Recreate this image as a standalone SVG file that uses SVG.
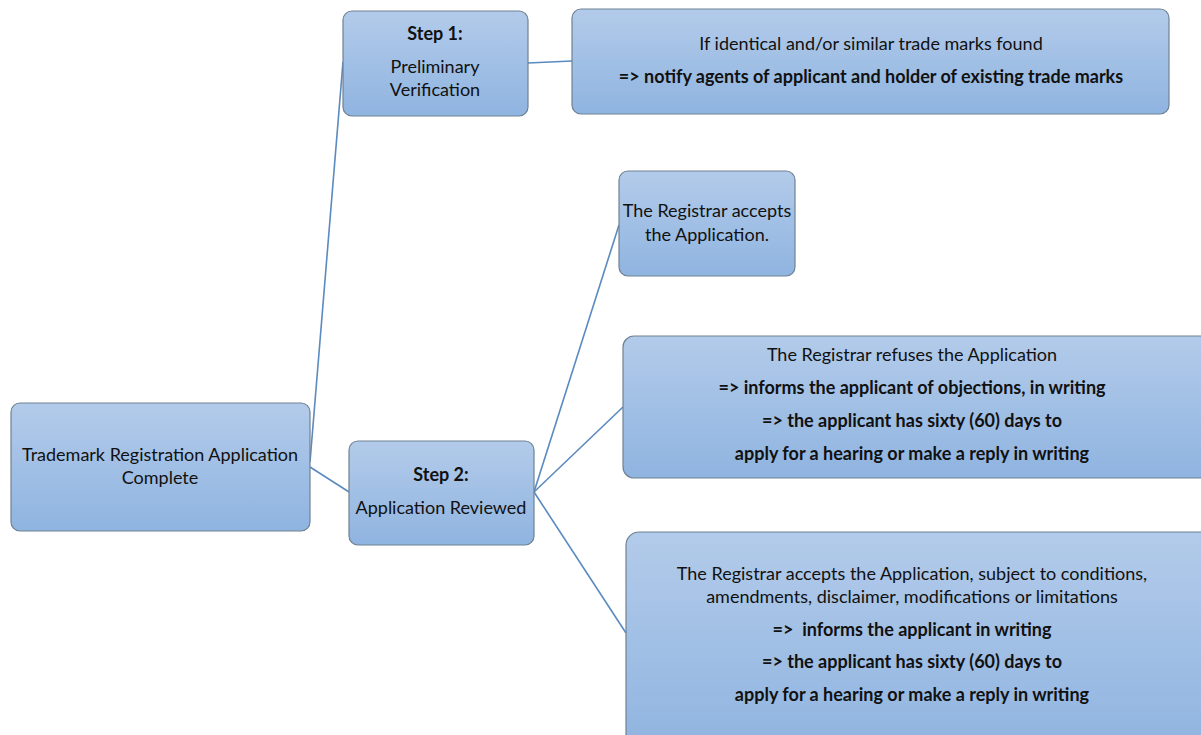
<svg xmlns="http://www.w3.org/2000/svg" width="1201" height="735" viewBox="0 0 1201 735">
<defs>
<linearGradient id="g" x1="0" y1="0" x2="0" y2="1">
<stop offset="0" stop-color="#b3cbea"/>
<stop offset="1" stop-color="#8fb4e0"/>
</linearGradient>
<style>
.box{fill:url(#g);stroke:#6f8193;stroke-width:1.2}
.t{font-family:Lato,"Open Sans",sans-serif;font-size:18px;fill:#111;text-anchor:middle}
.b{font-weight:bold}
.c{stroke:#5a8ac0;stroke-width:1.6;fill:none}
</style>
</defs>
<rect width="1201" height="735" fill="#fff"/>
<g id="connectors">
<line class="c" x1="310" y1="462" x2="343" y2="62"/>
<line class="c" x1="310" y1="467" x2="349" y2="492"/>
<line class="c" x1="528" y1="63" x2="572" y2="61"/>
<line class="c" x1="534" y1="492" x2="619" y2="225"/>
<line class="c" x1="534" y1="492" x2="623" y2="407"/>
<line class="c" x1="534" y1="492" x2="626" y2="633"/>
</g>
<g id="n-complete">
<rect class="box" x="11" y="403" width="299" height="128" rx="9"/>
<text class="t" x="160" y="461">Trademark Registration Application</text>
<text class="t" x="160" y="484">Complete</text>
</g>
<g id="n-step1">
<rect class="box" x="343" y="11" width="185" height="105" rx="9"/>
<text class="t b" x="435" y="40">Step 1:</text>
<text class="t" x="435" y="73">Preliminary</text>
<text class="t" x="435" y="96">Verification</text>
</g>
<g id="n-notify">
<rect class="box" x="572" y="9" width="597" height="105" rx="9"/>
<text class="t" x="871" y="50">If identical and/or similar trade marks found</text>
<text class="t b" x="871" y="83">=&gt; notify agents of applicant and holder of existing trade marks</text>
</g>
<g id="n-step2">
<rect class="box" x="349" y="441" width="185" height="104" rx="9"/>
<text class="t b" x="441" y="481">Step 2:</text>
<text class="t" x="441" y="514">Application Reviewed</text>
</g>
<g id="n-accept">
<rect class="box" x="619" y="171" width="176" height="105" rx="9"/>
<text class="t" x="707" y="217">The Registrar accepts</text>
<text class="t" x="707" y="241">the Application.</text>
</g>
<g id="n-refuse">
<rect class="box" x="623" y="336" width="590" height="142" rx="11"/>
<text class="t" x="912" y="361">The Registrar refuses the Application</text>
<text class="t b" x="912" y="394">=&gt; informs the applicant of objections, in writing</text>
<text class="t b" x="912" y="427">=&gt; the applicant has sixty (60) days to</text>
<text class="t b" x="912" y="460">apply for a hearing or make a reply in writing</text>
</g>
<g id="n-conditions">
<rect class="box" x="626" y="532" width="590" height="220" rx="13"/>
<text class="t" x="912" y="580">The Registrar accepts the Application, subject to conditions,</text>
<text class="t" x="912" y="603">amendments, disclaimer, modifications or limitations</text>
<text class="t b" x="912" y="636">=&gt;&#160; informs the applicant in writing</text>
<text class="t b" x="912" y="668">=&gt; the applicant has sixty (60) days to</text>
<text class="t b" x="912" y="701">apply for a hearing or make a reply in writing</text>
</g>
</svg>
